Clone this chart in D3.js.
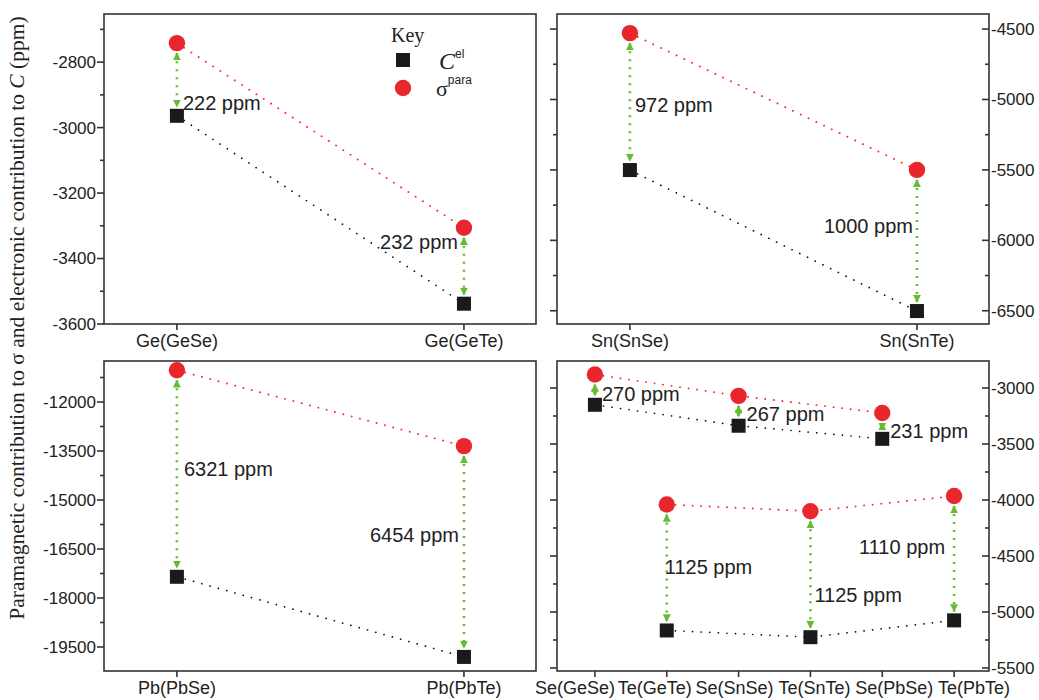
<!DOCTYPE html>
<html><head><meta charset="utf-8">
<script src="https://cdn.jsdelivr.net/npm/d3@7"></script>
<style>body{margin:0;background:#fff}</style>
</head><body>
<svg id="c" width="1039" height="700"></svg>
<script>
// ---------------- data ----------------
const catsGe = ["Ge(GeSe)", "Ge(GeTe)"];
const sigmaGe = [-2742, -3306];
const celGe = [-2964, -3538];
const diffGe = ["222 ppm", "232 ppm"];
const labelValGe = [-2925, -3350];

const catsSn = ["Sn(SnSe)", "Sn(SnTe)"];
const sigmaSn = [-4529, -5500];
const celSn = [-5501, -6502];
const diffSn = ["972 ppm", "1000 ppm"];
const labelValSn = [-5040, -5899];

const catsPb = ["Pb(PbSe)", "Pb(PbTe)"];
const sigmaPb = [-11030, -13350];
const celPb = [-17351, -19804];
const diffPb = ["6321 ppm", "6454 ppm"];
const labelValPb = [-14051, -16071];

const catsChal = ["Se(GeSe)", "Te(GeTe)", "Se(SnSe)", "Te(SnTe)", "Se(PbSe)", "Te(PbTe)"];
const sigmaChal = [-2880, -4040, -3070, -4100, -3223, -3965];
const celChal = [-3150, -5165, -3337, -5225, -3454, -5075];
const diffChal = ["270 ppm", "1125 ppm", "267 ppm", "1125 ppm", "231 ppm", "1110 ppm"];
const labelValChal = [-3054, -4598, -3232, -4848, -3384, -4420];

const yTicksGe = [-3600, -3400, -3200, -3000, -2800];
const yTicksSn = [-6500, -6000, -5500, -5000, -4500];
const yTicksPb = [-19500, -18000, -16500, -15000, -13500, -12000];
const yTicksChal = [-5500, -5000, -4500, -4000, -3500, -3000];

// ---------------- layout / style ----------------
const SANS = "'Liberation Sans', Arial, sans-serif";
const SERIF = "'Liberation Serif', 'Times New Roman', serif";
const RED = "#e8262b", GREEN = "#66bb33", FRAME = "#333";

const panels = [
  {cats: catsGe, sigma: sigmaGe, cel: celGe, diffs: diffGe, lv: labelValGe,
   lAnchor: ["start", "end"], lDx: [6, -6],
   box: [104, 536, 14, 324], yDom: [-3600, -2653], ticks: yTicksGe, minorStep: 100,
   side: "left", xDom: [-0.254, 1.251], groups: [[0, 1]], spread: 0},
  {cats: catsSn, sigma: sigmaSn, cel: celSn, diffs: diffSn, lv: labelValSn,
   lAnchor: ["start", "end"], lDx: [5, -4],
   box: [557, 989, 14, 324], yDom: [-6594, -4393], ticks: yTicksSn, minorStep: 250,
   side: "right", xDom: [-0.254, 1.251], groups: [[0, 1]], spread: 0},
  {cats: catsPb, sigma: sigmaPb, cel: celPb, diffs: diffPb, lv: labelValPb,
   lAnchor: ["start", "end"], lDx: [7, -5],
   box: [104, 536, 361, 671], yDom: [-20235, -10745], ticks: yTicksPb, minorStep: 750,
   side: "left", xDom: [-0.254, 1.251], groups: [[0, 1]], spread: 0},
  {cats: catsChal, sigma: sigmaChal, cel: celChal, diffs: diffChal, lv: labelValChal,
   lAnchor: ["start", "start", "start", "start", "start", "end"], lDx: [7, -2, 8, 4, 8, -9],
   box: [557, 989, 361, 671], yDom: [-5527, -2759], ticks: yTicksChal, minorStep: 250,
   side: "right", xDom: [-0.528, 5.486], groups: [[0, 2, 4], [1, 3, 5]], spread: 8}
];

const svg = d3.select("#c");
const defs = svg.append("defs");
defs.append("marker").attr("id", "ah").attr("viewBox", "0 0 10 10")
  .attr("refX", 9).attr("refY", 5).attr("markerWidth", 8).attr("markerHeight", 8)
  .attr("markerUnits", "userSpaceOnUse").attr("orient", "auto-start-reverse")
  .append("path").attr("d", "M0,0 L10,5 L0,10 Z").attr("fill", GREEN);

panels.forEach(p => {
  const [x0, x1, y0, y1] = p.box;
  const x = d3.scaleLinear().domain(p.xDom).range([x0, x1]);
  const y = d3.scaleLinear().domain(p.yDom).range([y1, y0]);
  const g = svg.append("g");

  // frame
  g.append("rect").attr("x", x0).attr("y", y0).attr("width", x1 - x0).attr("height", y1 - y0)
    .attr("fill", "none").attr("stroke", FRAME).attr("stroke-width", 1.6);

  // y ticks
  const minor = d3.range(Math.ceil(p.yDom[0] / p.minorStep) * p.minorStep, p.yDom[1], p.minorStep)
    .filter(v => !p.ticks.includes(v));
  const tickG = g.append("g").attr("stroke", FRAME).attr("stroke-width", 1.6);
  if (p.side === "left") {
    p.ticks.forEach(v => tickG.append("line").attr("x1", x0 - 7).attr("x2", x0).attr("y1", y(v)).attr("y2", y(v)));
    minor.forEach(v => tickG.append("line").attr("x1", x0 - 4).attr("x2", x0).attr("y1", y(v)).attr("y2", y(v)));
    g.selectAll(null).data(p.ticks).enter().append("text")
      .attr("x", x0 - 8).attr("y", d => y(d)).attr("dy", "0.35em").attr("text-anchor", "end")
      .attr("font-family", SANS).attr("font-size", 17).attr("fill", "#222").text(d => d);
  } else {
    p.ticks.forEach(v => {
      tickG.append("line").attr("x1", x1 - 7).attr("x2", x1).attr("y1", y(v)).attr("y2", y(v));
      tickG.append("line").attr("x1", x0 - 7).attr("x2", x0).attr("y1", y(v)).attr("y2", y(v));
    });
    minor.forEach(v => {
      tickG.append("line").attr("x1", x1 - 4).attr("x2", x1).attr("y1", y(v)).attr("y2", y(v));
      tickG.append("line").attr("x1", x0 - 4).attr("x2", x0).attr("y1", y(v)).attr("y2", y(v));
    });
    g.selectAll(null).data(p.ticks).enter().append("text")
      .attr("x", x1 + 2).attr("y", d => y(d)).attr("dy", "0.35em").attr("text-anchor", "start")
      .attr("font-family", SANS).attr("font-size", 17).attr("fill", "#222").text(d => d);
  }

  // x ticks + labels
  p.cats.forEach((c, i) => {
    tickG.append("line").attr("x1", x(i)).attr("x2", x(i)).attr("y1", y1).attr("y2", y1 + 6);
  });
  const mid = (p.cats.length - 1) / 2;
  g.selectAll(null).data(p.cats).enter().append("text")
    .attr("x", (d, i) => x(i) + (i - mid) * p.spread).attr("y", y1 + 23)
    .attr("text-anchor", "middle").attr("font-family", SANS).attr("font-size", 18)
    .attr("fill", "#222").text(d => d);

  // dotted connecting lines
  p.groups.forEach(grp => {
    const line = d3.line().x(i => x(i));
    g.append("path").attr("d", line.y(i => y(p.cel[i]))(grp))
      .attr("fill", "none").attr("stroke", "#111").attr("stroke-width", 1.7)
      .attr("stroke-dasharray", "0.1,8.5").attr("stroke-linecap", "round");
    g.append("path").attr("d", line.y(i => y(p.sigma[i]))(grp))
      .attr("fill", "none").attr("stroke", "#ff2a2a").attr("stroke-width", 1.9)
      .attr("stroke-dasharray", "0.1,8.5").attr("stroke-linecap", "round");
  });

  // green double arrows
  p.cats.forEach((c, i) => {
    const ys = y(p.sigma[i]) + 10, ye = y(p.cel[i]) - 9;
    if (ye - ys < 4) return;
    g.append("line").attr("x1", x(i)).attr("x2", x(i)).attr("y1", ys).attr("y2", ye)
      .attr("stroke", GREEN).attr("stroke-width", 2.6).attr("stroke-dasharray", "2,6")
      .attr("marker-start", "url(#ah)").attr("marker-end", "url(#ah)");
  });

  // markers
  g.selectAll(null).data(p.cel).enter().append("rect")
    .attr("x", (d, i) => x(i) - 7).attr("y", d => y(d) - 7).attr("width", 14).attr("height", 14)
    .attr("fill", "#1a1a1a");
  g.selectAll(null).data(p.sigma).enter().append("circle")
    .attr("cx", (d, i) => x(i)).attr("cy", d => y(d)).attr("r", 8.2).attr("fill", RED);

  // difference labels
  g.selectAll(null).data(p.diffs).enter().append("text")
    .attr("x", (d, i) => x(i) + p.lDx[i]).attr("y", (d, i) => y(p.lv[i])).attr("dy", "0.35em")
    .attr("text-anchor", (d, i) => p.lAnchor[i])
    .attr("font-family", SANS).attr("font-size", 20).attr("fill", "#222").text(d => d);
});

// legend
const lg = svg.append("g");
lg.append("text").attr("x", 391).attr("y", 42).attr("font-family", SERIF).attr("font-size", 20)
  .attr("fill", "#222").text("Key");
lg.append("rect").attr("x", 396).attr("y", 53).attr("width", 14).attr("height", 14).attr("fill", "#1a1a1a");
const t1 = lg.append("text").attr("x", 439).attr("y", 69).attr("fill", "#222");
t1.append("tspan").attr("font-family", SERIF).attr("font-style", "italic").attr("font-size", 24).text("C");
t1.append("tspan").attr("font-family", SANS).attr("font-size", 12).attr("dy", -11).text("el");
lg.append("circle").attr("cx", 403).attr("cy", 88).attr("r", 8.2).attr("fill", RED);
const t2 = lg.append("text").attr("x", 436).attr("y", 96).attr("fill", "#222");
t2.append("tspan").attr("font-family", SERIF).attr("font-size", 22).text("σ");
t2.append("tspan").attr("font-family", SANS).attr("font-size", 12).attr("dy", -12).text("para");

// y-axis title
const yt = svg.append("text").attr("transform", "translate(24,318) rotate(-90)")
  .attr("text-anchor", "middle").attr("font-family", SERIF).attr("font-size", 21.5).attr("fill", "#222");
yt.append("tspan").text("Paramagnetic contribution to σ and electronic contribution to ");
yt.append("tspan").attr("font-style", "italic").text("C");
yt.append("tspan").text(" (ppm)");
</script>
</body></html>
